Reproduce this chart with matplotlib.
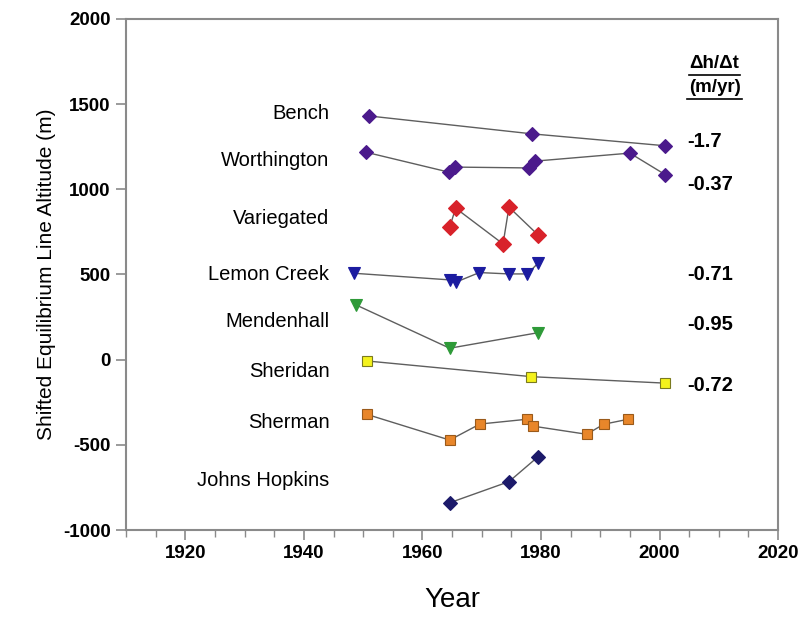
import matplotlib
matplotlib.use("Agg")
import matplotlib.pyplot as plt
from matplotlib.ticker import MultipleLocator

plt.rcParams['font.family'] = ['Liberation Sans', 'DejaVu Sans']
plt.rcParams['axes.unicode_minus'] = False

# glacier records: year, shifted ELA (m)
bench_yr = [1951, 1978.5, 2001]
bench_ela = [1430, 1325, 1255]

worth_yr = [1950.5, 1964.5, 1965.5, 1978, 1979, 1995, 2001]
worth_ela = [1217, 1100, 1130, 1125, 1165, 1212, 1085]

varieg_yr = [1964.6, 1965.6, 1973.6, 1974.6, 1979.5]
varieg_ela = [777, 889, 679, 895, 732]

lemon_yr = [1948.4, 1964.6, 1965.6, 1969.6, 1974.6, 1977.7, 1979.5]
lemon_ela = [507, 468, 454, 511, 503, 503, 566]

menden_yr = [1948.8, 1964.6, 1979.5]
menden_ela = [321, 67, 158]

sheridan_yr = [1950.7, 1978.4, 2001]
sheridan_ela = [-8, -100, -138]

sherman_yr = [1950.6, 1964.6, 1969.7, 1977.6, 1978.6, 1987.7, 1990.6, 1994.7]
sherman_ela = [-321, -472, -378, -350, -390, -438, -379, -350]

jh_yr = [1964.6, 1974.6, 1979.5]
jh_ela = [-840, -716, -570]

# name labels and rates
names = ['Bench', 'Worthington', 'Variegated', 'Lemon Creek', 'Mendenhall',
         'Sheridan', 'Sherman', 'Johns Hopkins']
name_y = [1442, 1166, 826, 497, 221, -72, -366, -707]
rates = ['-1.7', '-0.37', '-0.71', '-0.95', '-0.72']
rate_y = [1278, 1030, 497, 204, -149]

fig = plt.figure(figsize=(7.98, 6.28), dpi=100)
ax = fig.add_axes([0.158, 0.156, 0.817, 0.814])

line_kw = dict(color='#5e5e5e', lw=1.0)
series = [
    (bench_yr, bench_ela, 'D', '#4b1a8c', '#4b1a8c', 7),
    (worth_yr, worth_ela, 'D', '#4b1a8c', '#4b1a8c', 7),
    (varieg_yr, varieg_ela, 'D', '#d8222a', '#d8222a', 8),
    (lemon_yr, lemon_ela, 'v', '#1c1ca0', '#1c1ca0', 8.5),
    (menden_yr, menden_ela, 'v', '#2e9a38', '#2e9a38', 8.5),
    (sheridan_yr, sheridan_ela, 's', '#f4f21c', '#7a7a20', 7.5),
    (sherman_yr, sherman_ela, 's', '#e8862a', '#9a5a1a', 7.5),
    (jh_yr, jh_ela, 'D', '#1c1a6a', '#1c1a6a', 7),
]
for xs, ys, mk, fc, ec, ms in series:
    ax.plot(xs, ys, **line_kw, zorder=1)
    ax.plot(xs, ys, ls='none', marker=mk, ms=ms, mfc=fc, mec=ec, mew=0.8, zorder=2)

for n, y in zip(names, name_y):
    ax.text(1944.3, y, n, ha='right', va='center', fontsize=14.5)

for r, y in zip(rates, rate_y):
    ax.text(2004.6, y, r, ha='left', va='center', fontsize=14.5, fontweight='bold')

ax.text(2009.3, 1736, 'Δh/Δt', ha='center', va='center', fontsize=13.5, fontweight='bold')
ax.text(2009.3, 1595, '(m/yr)', ha='center', va='center', fontsize=13.5, fontweight='bold')
ax.plot([2005.0, 2013.6], [1670, 1670], color='black', lw=1.2)
ax.plot([2004.7, 2014.0], [1528, 1528], color='black', lw=1.2)

ax.set_xlim(1910, 2020)
ax.set_ylim(-1000, 2000)
ax.xaxis.set_minor_locator(MultipleLocator(5))
ax.yaxis.set_major_locator(MultipleLocator(500))
ax.set_xticks([1920, 1940, 1960, 1980, 2000, 2020])

for s in ax.spines.values():
    s.set_color('#8a8a8a')
    s.set_linewidth(1.5)
ax.tick_params(axis='both', which='major', direction='out', length=7, width=1.2,
               color='#8a8a8a', labelsize=13.5, pad=4)
ax.tick_params(axis='x', which='minor', direction='out', length=5, width=1.0, color='#8a8a8a')
for lab in ax.get_xticklabels() + ax.get_yticklabels():
    lab.set_fontweight('bold')

ax.set_xlabel('Year', fontsize=20, labelpad=18)
ax.set_ylabel('Shifted Equilibrium Line Altitude (m)', fontsize=15, labelpad=5)

plt.savefig('out.png', dpi=100)
plt.close()
